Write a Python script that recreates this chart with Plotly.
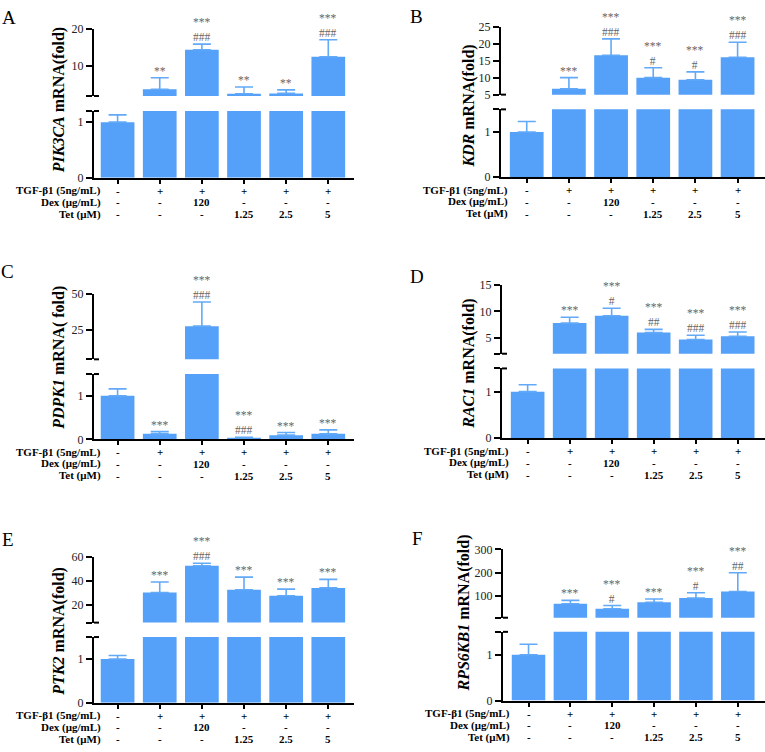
import plotly.graph_objects as go

W, H = 765, 752

# ---------------- data ----------------
groups = [0, 1, 2, 3, 4, 5]
tgf_row = ["-", "+", "+", "+", "+", "+"]
dex_row = ["-", "-", "120", "-", "-", "-"]
tet_row = ["-", "-", "-", "1.25", "2.5", "5"]
row_labels = ["TGF-β1 (5ng/mL)", "Dex (μg/mL)", "Tet (μM)"]

panel_letters = ["A", "B", "C", "D", "E", "F"]
genes = ["PIK3CA", "KDR", "PDPK1", "RAC1", "PTK2", "RPS6KB1"]
title_suffix = ["mRNA(fold)", "mRNA(fold)", "mRNA( fold)", "mRNA(fold)", "mRNA(fold)", "mRNA(fold)"]

mean_A = [1.0, 3.8, 14.4, 2.6, 2.7, 12.5]
sd_A = [0.13, 3.1, 1.5, 1.8, 0.95, 4.6]
mean_B = [1.0, 6.7, 16.6, 10.0, 9.4, 16.0]
sd_B = [0.23, 3.3, 4.8, 2.9, 2.3, 4.4]
mean_C = [1.0, 0.13, 27.8, 0.04, 0.10, 0.13]
sd_C = [0.16, 0.05, 16.6, 0.01, 0.06, 0.09]
mean_D = [1.0, 7.8, 9.2, 6.0, 4.7, 5.3]
sd_D = [0.15, 1.1, 1.4, 0.6, 0.8, 0.8]
mean_E = [1.0, 30.4, 52.9, 32.6, 27.6, 34.2]
sd_E = [0.08, 8.8, 2.1, 10.7, 5.6, 7.2]
mean_F = [1.0, 65, 43.5, 72, 90, 118]
sd_F = [0.23, 15, 14, 14, 23, 81]

stars_A = ["", "**", "***", "**", "**", "***"]
hash_A = ["", "", "###", "", "", "###"]
stars_B = ["", "***", "***", "***", "***", "***"]
hash_B = ["", "", "###", "#", "#", "###"]
stars_C = ["", "***", "***", "***", "***", "***"]
hash_C = ["", "", "###", "###", "", ""]
stars_D = ["", "***", "***", "***", "***", "***"]
hash_D = ["", "", "#", "##", "###", "###"]
stars_E = ["", "***", "***", "***", "***", "***"]
hash_E = ["", "", "###", "", "", ""]
stars_F = ["", "***", "***", "***", "***", "***"]
hash_F = ["", "", "#", "", "#", "##"]

# broken-axis ranges and ticks
lower_top = [1.2, 1.5, 1.5, 1.5, 1.5, 1.5]
upper_range_A = [2, 20]
upper_range_B = [5, 25]
upper_range_C = [5, 50]
upper_range_D = [2, 15]
upper_range_E = [5, 60]
upper_range_F = [5, 300]
upper_ticks_A = [10, 20]
upper_ticks_B = [5, 10, 15, 20, 25]
upper_ticks_C = [25, 50]
upper_ticks_D = [5, 10, 15]
upper_ticks_E = [20, 40, 60]
upper_ticks_F = [100, 200, 300]

means = [mean_A, mean_B, mean_C, mean_D, mean_E, mean_F]
sds = [sd_A, sd_B, sd_C, sd_D, sd_E, sd_F]
stars = [stars_A, stars_B, stars_C, stars_D, stars_E, stars_F]
hashes = [hash_A, hash_B, hash_C, hash_D, hash_E, hash_F]
upper_ranges = [upper_range_A, upper_range_B, upper_range_C, upper_range_D, upper_range_E, upper_range_F]
upper_ticks = [upper_ticks_A, upper_ticks_B, upper_ticks_C, upper_ticks_D, upper_ticks_E, upper_ticks_F]

# ---------------- layout geometry (pixels) ----------------
geo = [
    dict(x=(94, 354), xr=(-0.56, 5.61), low=(174, 106), up=(90.7, 22.3),
         letter=(9, 3), title=(59, 95)),
    dict(x=(501, 765), xr=(-0.61, 5.65), low=(173.3, 104.3), up=(89.3, 20.0),
         letter=(417, 2), title=(469, 101.5)),
    dict(x=(94, 354), xr=(-0.56, 5.61), low=(440.7, 374), up=(359, 292.3),
         letter=(8, 262), title=(59, 357.5)),
    dict(x=(502, 765), xr=(-0.61, 5.65), low=(439.3, 368.3), up=(353.3, 283.3),
         letter=(417, 267), title=(469, 363.5)),
    dict(x=(94, 354), xr=(-0.56, 5.61), low=(709, 642), up=(627.3, 560.7),
         letter=(8, 535), title=(59, 636.5)),
    dict(x=(503, 765), xr=(-0.61, 5.65), low=(706.7, 636.7), up=(622.3, 552.7),
         letter=(418, 534), title=(464.5, 617.5)),
]

BAR = "#55A0F9"
ERR = "#62A9F7"
SIG = "#666666"
SERIF = "Liberation Serif, Times New Roman, serif"
ROW_SHIFTS = [-13, -24.5, -36.5]


def px(v):
    return v / W


def py(v):
    return 1 - v / H


def aname(letter, n):
    return letter if n == 1 else f"{letter}{n}"


def lkey(letter, n):
    return f"{letter}axis" if n == 1 else f"{letter}axis{n}"


fig = go.Figure()
layout = {}
annotations = []
shapes = []

for p in range(6):
    g = geo[p]
    xn, yl, yu = p + 1, 2 * p + 1, 2 * p + 2
    xa, ya_l, ya_u = aname("x", xn), aname("y", yl), aname("y", yu)
    m, s = means[p], sds[p]
    ur = upper_ranges[p]
    lt = lower_top[p]

    # lower segment: all bars (tall ones are clipped at the break)
    fig.add_trace(go.Bar(
        x=groups, y=m, xaxis=xa, yaxis=ya_l, width=0.8,
        marker=dict(color=BAR, line=dict(width=0)),
        error_y=dict(type="data", symmetric=False,
                     array=[s[i] if m[i] + s[i] <= lt else 0 for i in groups],
                     arrayminus=[0] * len(s), color=ERR, thickness=1.6, width=9),
        showlegend=False, hoverinfo="skip"))
    # upper segment: only bars reaching above the break
    fig.add_trace(go.Bar(
        x=groups, y=[m[i] if m[i] > ur[0] else None for i in groups],
        xaxis=xa, yaxis=ya_u, width=0.8,
        marker=dict(color=BAR, line=dict(width=0)),
        error_y=dict(type="data", symmetric=False,
                     array=[s[i] if m[i] > ur[0] else 0 for i in groups],
                     arrayminus=[0] * len(s), color=ERR, thickness=1.6, width=9),
        showlegend=False, hoverinfo="skip"))

    layout[lkey("x", xn)] = dict(
        domain=[px(g["x"][0]), px(g["x"][1])], range=list(g["xr"]), anchor=ya_l,
        showline=True, linewidth=2, linecolor="black", ticks="outside",
        tickwidth=2, ticklen=4, tickcolor="black", tickvals=groups,
        showticklabels=False, showgrid=False, zeroline=False, fixedrange=True)
    layout[lkey("y", yl)] = dict(
        domain=[py(g["low"][0]), py(g["low"][1])], range=[0, lt], anchor=xa,
        showline=True, linewidth=2, linecolor="black", ticks="outside",
        tickwidth=2, ticklen=6, tickcolor="black",
        tickvals=[0, 1, lt], ticktext=["0", "1", ""],
        tickfont=dict(family=SERIF, size=12, color="#222"),
        showgrid=False, zeroline=False, fixedrange=True)
    layout[lkey("y", yu)] = dict(
        domain=[py(g["up"][0]), py(g["up"][1])], range=list(ur), anchor=xa,
        showline=True, linewidth=2, linecolor="black", ticks="outside",
        tickwidth=2, ticklen=6, tickcolor="black",
        tickvals=[ur[0]] + upper_ticks[p],
        ticktext=[str(ur[0]) if ur[0] in upper_ticks[p] else ""] + [str(t) for t in upper_ticks[p]],
        tickfont=dict(family=SERIF, size=12, color="#222"),
        showgrid=False, zeroline=False, fixedrange=True)

    # break ticks crossing the axis
    for yy in (g["low"][1], g["up"][0]):
        shapes.append(dict(type="line", xref="paper", yref="paper",
                           x0=px(g["x"][0]), x1=px(g["x"][0] + 5),
                           y0=py(yy), y1=py(yy), line=dict(color="black", width=2)))

    # significance marks (stars above hashes)
    for i in groups:
        top = m[i] + s[i]
        yref = ya_u if top > lt else ya_l
        lines = [t for t in (stars[p][i], hashes[p][i]) if t]
        if not lines:
            continue
        annotations.append(dict(x=i, y=top, xref=xa, yref=yref, text="<br>".join(lines),
                                showarrow=False, yanchor="bottom", yshift=0,
                                borderpad=0,
                                font=dict(family=SERIF, size=11.5, color=SIG)))

    # treatment table
    for r, row in enumerate([tgf_row, dex_row, tet_row]):
        shift = ROW_SHIFTS[r]
        annotations.append(dict(x=g["xr"][0], y=0, xref=xa, yref=ya_l,
                                text=f"<b>{row_labels[r]}</b>", showarrow=False,
                                xanchor="right", yanchor="middle", xshift=8, yshift=shift,
                                borderpad=0,
                                font=dict(family=SERIF, size=11, color="black")))
        for i in groups:
            annotations.append(dict(x=i, y=0, xref=xa, yref=ya_l,
                                    text=f"<b>{row[i]}</b>", showarrow=False,
                                    xanchor="center", yanchor="middle", yshift=shift,
                                    borderpad=0,
                                    font=dict(family=SERIF, size=11, color="black")))

    # y title
    annotations.append(dict(x=px(g["title"][0]), y=py(g["title"][1]), xref="paper", yref="paper",
                            text=f"<b><i>{genes[p]}</i> {title_suffix[p]}</b>", textangle=-90,
                            showarrow=False, xanchor="center", yanchor="middle",
                            font=dict(family=SERIF, size=16, color="black")))
    # panel letter
    annotations.append(dict(x=px(g["letter"][0]), y=py(g["letter"][1] - 4), xref="paper", yref="paper",
                            text=panel_letters[p], showarrow=False, xanchor="center",
                            yanchor="top", borderpad=0,
                            font=dict(family=SERIF, size=19, color="black")))

fig.update_layout(
    width=W, height=H, margin=dict(l=0, r=0, t=0, b=0),
    paper_bgcolor="white", plot_bgcolor="white", bargap=0.2,
    annotations=annotations, shapes=shapes, showlegend=False, **layout)

page_fix = (
    "document.body.style.margin='0';"
    "document.documentElement.style.overflow='hidden';"
    "document.body.style.overflow='hidden';"
    "var gd=document.getElementById('{plot_id}');"
    "gd.style.position='absolute';gd.style.top='0px';gd.style.left='0px';"
)
fig.write_html("out.html", config={"displayModeBar": False}, post_script=page_fix)
